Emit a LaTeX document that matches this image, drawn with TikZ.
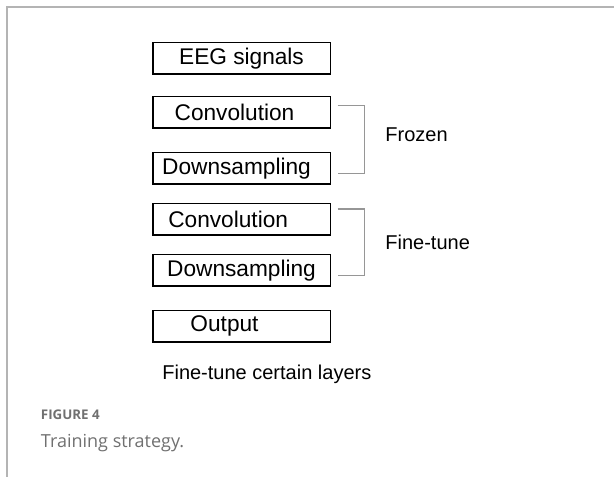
\documentclass[tikz,border=0pt]{standalone}
\usepackage{fontspec}
\setmainfont{Liberation Sans}
\newfontfamily\capfont{Open Sans}
\usepackage{xcolor}
\usepackage{tikz}
\usetikzlibrary{positioning, calc}
\definecolor{framegray}{RGB}{180,180,180}
\definecolor{brkgray}{RGB}{150,150,150}
\definecolor{capgray}{RGB}{112,112,112}

\begin{document}
\begin{tikzpicture}[
  x=0.75pt, y=-0.75pt,
  node distance = 16pt,
  layer/.style = {
    rectangle, draw=black, line width=1pt,
    minimum width=133pt, minimum height=23.6pt, inner sep=0pt,
    font=\fontsize{17}{20}\selectfont
  },
  tag/.style = {inner sep=0pt, font=\fontsize{15}{18}\selectfont},
  brk/.style = {draw=brkgray, line width=0.8pt},
  frame/.style = {draw=framegray, line width=1pt}
]
\useasboundingbox (0,0) rectangle (614,477);
\draw[frame] (7,477) -- (7,7) -- (614,7);

\node[layer] (eeg) at (241.5,58.3) {EEG signals};
\node[layer, below=16pt of eeg]    (conv1) {Convolution\hspace*{10.5pt}};
\node[layer, below=17.25pt of conv1] (down1) {Downsampling\hspace*{7.5pt}};
\node[layer, below=13.7pt of down1]  (conv2) {Convolution\hspace*{20pt}};
\node[layer, below=13.7pt of conv2]  (down2) {Downsampling};
\node[layer, below=17.25pt of down2] (out)   {Output\hspace*{25.5pt}};
\node[tag, below=17pt of out, xshift=19pt, anchor=north] (note) {Fine-tune certain layers};

% brackets
\coordinate (fa) at ($(conv1.north east)+(5pt,-7pt)$);
\coordinate (fb) at ($(down1.south east)+(5pt,8.25pt)$);
\coordinate (ta) at ($(conv2.north east)+(5pt,-4.6pt)$);
\coordinate (tb) at ($(down2.south east)+(5pt,8.25pt)$);
\draw[brk] (fa) -- ++(20.25pt,0) |- (fb);
\draw[brk] (ta) -- ++(20.25pt,0) |- (tb);
\node[tag, anchor=west] (frozen) at ($(fa)!0.5!(fb)+(35.75pt,3.5pt)$) {Frozen};
\node[tag, anchor=west] (tune)   at ($(ta)!0.5!(tb)+(35.75pt,0pt)$)   {Fine-tune};

% caption
\node[anchor=base west, inner sep=0pt, text=capgray, font=\capfont\bfseries\fontsize{10}{12}\selectfont] (fig) at (40.7,419.3) {FIGURE 4};
\node[anchor=base west, inner sep=0pt, text=capgray, font=\capfont\fontsize{13.5}{16}\selectfont] (figtxt) at (40.7,447.3) {Training strategy.};
\end{tikzpicture}
\end{document}
